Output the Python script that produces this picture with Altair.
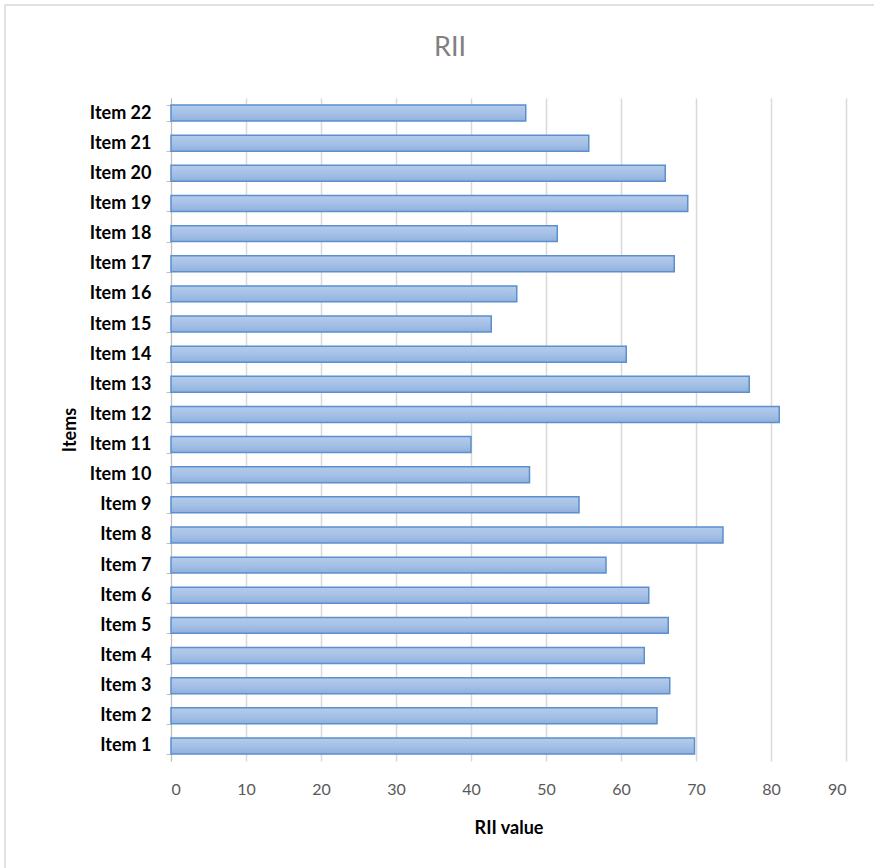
import altair as alt
import pandas as pd

items = [f"Item {i}" for i in range(1, 23)]
rii = [69.8, 64.8, 66.5, 63.1, 66.3, 63.7, 58.0, 73.6, 54.4, 47.8, 40.0,
       81.1, 77.1, 60.7, 42.7, 46.1, 67.1, 51.5, 68.9, 65.9, 55.7, 47.3]
x_ticks = [0, 10, 20, 30, 40, 50, 60, 70, 80, 90]
title_text = ["RII"]

df = pd.DataFrame({"item": items, "rii": rii})

FONT = "Lato"

gradient = alt.LinearGradient(
    gradient="linear", x1=0, y1=0, x2=0, y2=1,
    stops=[alt.GradientStop(color="#b4cbeb", offset=0),
           alt.GradientStop(color="#a6c1e6", offset=0.5),
           alt.GradientStop(color="#8fb0de", offset=1)],
)

bars = alt.Chart(df).mark_bar(
    color=gradient, stroke="#5b8fcd", strokeWidth=1.5
).encode(
    x=alt.X("rii:Q", scale=alt.Scale(domain=[0, 90], nice=False, zero=True),
            axis=alt.Axis(values=x_ticks, title="RII value", grid=True,
                          gridColor="#d9d9d9", gridWidth=1.5, domain=False,
                          ticks=False, labelColor="#595959", labelFontSize=16,
                          labelFont=FONT, labelPadding=20, titleFont=FONT,
                          titleFontSize=18, titleFontWeight="bold",
                          titleColor="#000000", titlePadding=22)),
    y=alt.Y("item:N", sort=items[::-1],
            scale=alt.Scale(paddingInner=0.47, paddingOuter=0.235),
            axis=alt.Axis(title="Items", tickBand="extent", grid=False,
                          domainColor="#bfbfbf", tickColor="#bfbfbf",
                          tickSize=5, labelFont=FONT, labelFontSize=18,
                          labelFontWeight="bold", labelColor="#000000",
                          labelPadding=15, titleFont=FONT, titleFontSize=18,
                          titleFontWeight="bold", titleColor="#000000",
                          titlePadding=10)),
    tooltip=["item", "rii"],
)

frame = alt.Chart(pd.DataFrame({"a": [0]})).mark_rect(
    fill=None, stroke="#d9d9d9", strokeWidth=1.5
).encode(
    x=alt.value(-166), x2=alt.value(710), y=alt.value(-93), y2=alt.value(775)
)

title = alt.Chart(pd.DataFrame({"t": title_text})).mark_text(
    font=FONT, fontSize=27, color="#808080", align="center", baseline="middle"
).encode(
    text="t:N", x=alt.value(279), y=alt.value(-50)
)

chart = alt.layer(frame, bars, title).properties(
    width=675, height=663,
    autosize=alt.AutoSizeParams(type="none"),
    padding={"left": 171, "top": 98, "right": 28, "bottom": 107},
    background="white",
).configure_view(stroke=None)

chart.save("out.html", embed_options={"renderer": "svg", "actions": False})
